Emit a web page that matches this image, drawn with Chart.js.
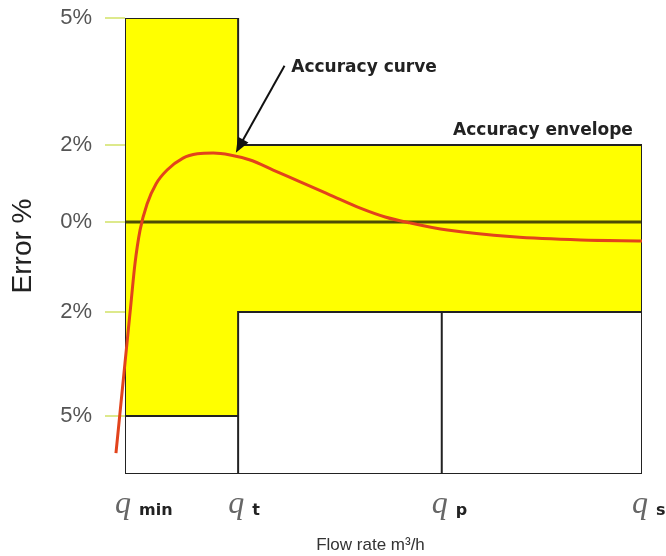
<!DOCTYPE html>
<html>
<head>
<meta charset="utf-8">
<script src="https://cdn.jsdelivr.net/npm/chart.js@4.4.1/dist/chart.umd.min.js"></script>
<style>
  html, body { margin: 0; padding: 0; background: #fff; }
  #wrap { width: 666px; height: 556px; position: relative; }
</style>
</head>
<body>
<div id="wrap"><canvas id="chart"></canvas></div>
<script>
// flow rate points on the x axis (arbitrary units, q_min .. q_s)
const qNames = ['min', 't', 'p', 's'];
const qFlow = [0, 1, 2.8, 4.57];

// error axis
const yTickValues = [5, 2, 0, -2, -5];
const yTickLabels = ['5%', '2%', '0%', '2%', '5%'];
const yBottom = -6.67;

// accuracy envelope (upper and lower limits)
const envFlow = [0, 1, 1, 4.57];
const envUpper = [5, 5, 2, 2];
const envLower = [-5, -5, -2, -2];

// accuracy curve
const curveFlow = [-0.08, 0, 0.053, 0.088, 0.133, 0.195, 0.274, 0.372, 0.513, 0.64, 0.78, 0.929, 1.106, 1.31, 1.549, 1.814, 2.08, 2.3, 2.52, 2.85, 3.43, 4.03, 4.57];
const curveError = [-6.07, -3.47, -1.8, -0.93, -0.18, 0.47, 0.99, 1.35, 1.66, 1.77, 1.79, 1.74, 1.61, 1.35, 1.04, 0.70, 0.36, 0.13, -0.02, -0.18, -0.33, -0.40, -0.42];

// the drawing is not to scale: each band between ticks has its own height
const yBreaks = [yBottom, -5, -2, 0, 2, 5];
const yBandWeights = [58, 104, 90, 77, 127];

const totalWeight = yBandWeights.reduce((a, b) => a + b, 0);

function toDecimal(v) {
  let acc = 0;
  for (let i = 0; i < yBandWeights.length; i++) {
    const lo = yBreaks[i], hi = yBreaks[i + 1];
    if (v <= hi || i === yBandWeights.length - 1) {
      return (acc + (v - lo) / (hi - lo) * yBandWeights[i]) / totalWeight;
    }
    acc += yBandWeights[i];
  }
}
function fromDecimal(d) {
  let w = d * totalWeight, acc = 0;
  for (let i = 0; i < yBandWeights.length; i++) {
    if (w <= acc + yBandWeights[i] || i === yBandWeights.length - 1) {
      return yBreaks[i] + (w - acc) / yBandWeights[i] * (yBreaks[i + 1] - yBreaks[i]);
    }
    acc += yBandWeights[i];
  }
}

class PiecewiseScale extends Chart.LinearScale {
  getPixelForValue(value) {
    if (value === null || value === undefined || isNaN(value)) return NaN;
    return this.getPixelForDecimal(toDecimal(value));
  }
  getValueForPixel(pixel) {
    return fromDecimal(this.getDecimalForPixel(pixel));
  }
}
PiecewiseScale.id = 'piecewise';
PiecewiseScale.defaults = Chart.LinearScale.defaults;
Chart.register(PiecewiseScale);

const pts = (xs, ys) => xs.map((x, i) => ({x: x, y: ys[i]}));

// black outline made of several polylines, split with gaps
const lastQ = qFlow[qFlow.length - 1];
const outlineLines = [
  [{x: qFlow[0], y: yBottom}].concat(pts(envFlow, envUpper), [{x: lastQ, y: yBottom}, {x: qFlow[0], y: yBottom}]),
  pts(envFlow, envLower),
  [{x: qFlow[1], y: -5}, {x: qFlow[1], y: yBottom}],
  [{x: qFlow[2], y: -2}, {x: qFlow[2], y: yBottom}]
];
const outlineData = [];
outlineLines.forEach(l => { outlineData.push(...l); outlineData.push({x: l[0].x, y: null}); });

// annotation anchors (data units)
const arrowTail = [1.41, 3.87];
const arrowHead = [0.98, 1.8];
const curveLabelAt = [1.47, 3.82];
const envelopeLabelAt = [2.9, 2.35];
const xTitleAt = 2.17;

const textPlugin = {
  id: 'textPlugin',
  afterDatasetsDraw(chart) {
    const {ctx, scales: {x, y}, chartArea} = chart;
    ctx.save();

    // arrow to the curve
    const tx = x.getPixelForValue(arrowTail[0]), ty = y.getPixelForValue(arrowTail[1]);
    const hx = x.getPixelForValue(arrowHead[0]), hy = y.getPixelForValue(arrowHead[1]);
    const ang = Math.atan2(hy - ty, hx - tx);
    ctx.strokeStyle = '#111';
    ctx.fillStyle = '#111';
    ctx.lineWidth = 2;
    ctx.beginPath();
    ctx.moveTo(tx, ty);
    ctx.lineTo(hx - 10 * Math.cos(ang), hy - 10 * Math.sin(ang));
    ctx.stroke();
    ctx.beginPath();
    ctx.moveTo(hx, hy);
    ctx.lineTo(hx - 15 * Math.cos(ang) + 6 * Math.sin(ang), hy - 15 * Math.sin(ang) - 6 * Math.cos(ang));
    ctx.lineTo(hx - 15 * Math.cos(ang) - 6 * Math.sin(ang), hy - 15 * Math.sin(ang) + 6 * Math.cos(ang));
    ctx.closePath();
    ctx.fill();

    // labels
    ctx.font = 'bold 17px "DejaVu Sans"';
    ctx.fillStyle = '#222';
    ctx.textAlign = 'left';
    ctx.textBaseline = 'middle';
    ctx.fillText('Accuracy curve', x.getPixelForValue(curveLabelAt[0]), y.getPixelForValue(curveLabelAt[1]));
    ctx.fillText('Accuracy envelope', x.getPixelForValue(envelopeLabelAt[0]), y.getPixelForValue(envelopeLabelAt[1]));

    // q labels under the axis
    qNames.forEach((name, i) => {
      const px = x.getPixelForValue(qFlow[i]);
      ctx.font = 'italic 32px "Liberation Serif"';
      ctx.fillStyle = '#666';
      ctx.textAlign = 'center';
      ctx.textBaseline = 'alphabetic';
      ctx.fillText('q', px - 2, chartArea.bottom + 39);
      ctx.font = 'bold 16px "DejaVu Sans"';
      ctx.fillStyle = '#222';
      ctx.textAlign = 'left';
      ctx.fillText(name, px + 14, chartArea.bottom + 41);
    });

    ctx.font = '17px "Liberation Sans"';
    ctx.fillStyle = '#333';
    ctx.textAlign = 'center';
    ctx.textBaseline = 'middle';
    ctx.fillText('Flow rate m\u00b3/h', x.getPixelForValue(xTitleAt), chartArea.bottom + 71);
    ctx.restore();
  }
};

new Chart(document.getElementById('chart'), {
  type: 'line',
  data: {
    datasets: [
      {
        label: 'Accuracy curve',
        data: pts(curveFlow, curveError),
        borderColor: '#e2431c',
        borderWidth: 3,
        cubicInterpolationMode: 'monotone',
        pointRadius: 0,
        fill: false,
        clip: false,
        order: 0
      },
      {
        label: 'outline',
        data: outlineData,
        borderColor: '#222',
        borderWidth: 2,
        pointRadius: 0,
        fill: false,
        spanGaps: false,
        tension: 0,
        order: 1
      },
      {
        label: 'zero',
        data: [{x: qFlow[0], y: 0}, {x: lastQ, y: 0}],
        borderColor: '#4d4d05',
        borderWidth: 3,
        pointRadius: 0,
        fill: false,
        order: 2
      },
      {
        label: 'upper',
        data: pts(envFlow, envUpper),
        borderWidth: 0,
        pointRadius: 0,
        fill: false,
        tension: 0,
        order: 4
      },
      {
        label: 'lower',
        data: pts(envFlow, envLower),
        borderWidth: 0,
        pointRadius: 0,
        backgroundColor: '#ffff00',
        fill: 3,
        tension: 0,
        order: 3
      }
    ]
  },
  options: {
    responsive: true,
    maintainAspectRatio: false,
    animation: false,
    events: [],
    layout: { padding: { top: 18, right: 24, left: 0, bottom: 0 } },
    plugins: { legend: { display: false }, tooltip: { enabled: false } },
    scales: {
      x: {
        type: 'linear',
        min: qFlow[0],
        max: lastQ,
        grid: { display: false },
        border: { display: false },
        ticks: { display: false },
        afterFit: s => { s.height = 82; s.paddingLeft = 0; s.paddingRight = 0; }
      },
      y: {
        type: 'piecewise',
        min: yBottom,
        max: 5,
        afterBuildTicks: s => { s.ticks = yTickValues.map(v => ({value: v})); },
        ticks: {
          autoSkip: false,
          padding: 13,
          color: '#555',
          font: { family: '"Liberation Sans"', size: 22 },
          callback: (v, i) => yTickLabels[i]
        },
        grid: { drawOnChartArea: false, drawTicks: true, tickLength: 20, color: '#dde98c', lineWidth: 2 },
        border: { display: false },
        title: {
          display: true,
          text: 'Error %',
          color: '#222',
          font: { family: '"Liberation Sans"', size: 28 },
          padding: { top: 6, bottom: 0 }
        },
        afterFit: s => { s.width = 125; s.paddingTop = 0; s.paddingBottom = 0; }
      }
    }
  },
  plugins: [textPlugin]
});
</script>
</body>
</html>
